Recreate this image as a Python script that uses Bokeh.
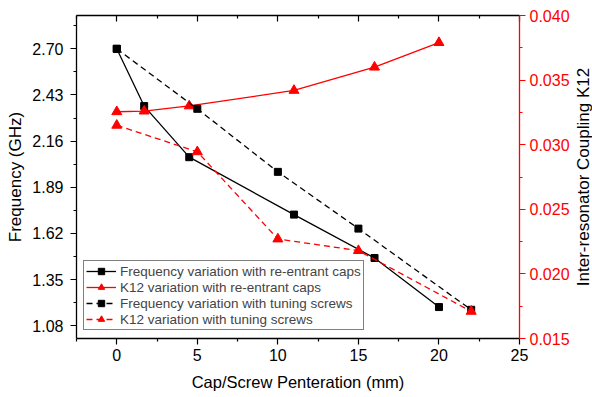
import math
from bokeh.plotting import figure
from bokeh.layouts import row
from bokeh.models import Range1d, LinearAxis, FixedTicker, Legend, LegendItem, PrintfTickFormatter
from bokeh.core.properties import value
from bokeh.embed import file_html
from bokeh.resources import INLINE

# Data
x_caps = [0, 1.7, 4.5, 11, 16, 20]
freq_caps = [2.70, 2.365, 2.066, 1.73, 1.476, 1.189]
k12_caps = [0.03255, 0.0326, 0.0330, 0.0342, 0.0360, 0.0379]

x_screws = [0, 5, 10, 15, 22]
freq_screws = [2.70, 2.349, 1.98, 1.648, 1.173]
k12_screws = [0.0315, 0.02945, 0.0227, 0.0218, 0.0171]

x_ticks = [0, 5, 10, 15, 20, 25]
x_minor = [-2.5, 2.5, 7.5, 12.5, 17.5, 22.5]
freq_ticks = [1.08, 1.35, 1.62, 1.89, 2.16, 2.43, 2.70]
freq_minor = [1.215, 1.485, 1.755, 2.025, 2.295, 2.565, 2.835]
k_ticks = [0.015, 0.020, 0.025, 0.030, 0.035, 0.040]
k_minor = [0.0175, 0.0225, 0.0275, 0.0325, 0.0375]

labels = [
    "Frequency variation with re-entrant caps",
    "K12 variation with re-entrant caps",
    "Frequency variation with tuning screws",
    "K12 variation with tuning screws",
]
right_title = "Inter-resonator Coupling K12"

FONT = "Liberation Sans"
RED = "#FF0000"
K_LO, K_HI = 0.015, 0.040

p = figure(width=572, height=397, x_range=Range1d(-2.5, 25), y_range=Range1d(1.005, 2.895),
           output_backend="svg", toolbar_location=None,
           min_border_left=76, min_border_right=53, min_border_top=15, min_border_bottom=59)
p.extra_y_ranges = {"k": Range1d(K_LO, K_HI)}
p.xgrid.visible = False
p.ygrid.visible = False
p.outline_line_color = None

def style_axis(ax, color="black"):
    ax.axis_line_color = color
    ax.axis_line_width = 1.3
    ax.major_tick_line_color = color
    ax.minor_tick_line_color = color
    ax.major_tick_line_width = 1.2
    ax.minor_tick_line_width = 1.2
    ax.major_tick_out = 6
    ax.major_tick_in = 0
    ax.minor_tick_out = 3
    ax.minor_tick_in = 0
    ax.major_label_text_font = FONT
    ax.major_label_text_font_size = "16px"
    ax.major_label_text_color = color
    ax.axis_label_text_font = FONT
    ax.axis_label_text_font_size = "17px"
    ax.axis_label_text_font_style = "normal"
    ax.axis_label_text_color = "black"

xa = p.xaxis[0]
xa.ticker = FixedTicker(ticks=x_ticks, minor_ticks=x_minor)
xa.axis_label = "Cap/Screw Penteration (mm)"
style_axis(xa)
xa.axis_label_text_font_size = "16.5px"
xa.major_label_standoff = 4
xa.axis_label_standoff = 9

ya = p.yaxis[0]
ya.ticker = FixedTicker(ticks=freq_ticks, minor_ticks=freq_minor)
ya.formatter = PrintfTickFormatter(format="%.2f")
ya.axis_label = "Frequency (GHz)"
style_axis(ya)
ya.major_label_standoff = 7
ya.axis_label_standoff = 4

ra = LinearAxis(y_range_name="k", ticker=FixedTicker(ticks=k_ticks, minor_ticks=k_minor),
                formatter=PrintfTickFormatter(format="%.3f"))
style_axis(ra, RED)
ra.major_label_standoff = 4
p.add_layout(ra, "right")

ta = LinearAxis(ticker=FixedTicker(ticks=x_ticks, minor_ticks=x_minor))
style_axis(ta)
ta.major_tick_out = 0
ta.major_tick_in = 6
ta.minor_tick_out = 0
ta.minor_tick_in = 3
ta.major_label_overrides = {t: "" for t in x_ticks}
ta.major_label_standoff = 0
p.add_layout(ta, "above")

# Series
l1 = p.line(x_caps, freq_caps, line_color="black", line_width=1.3)
m1 = p.scatter(x_caps, freq_caps, marker="square", size=7, color="black")

l2 = p.line(x_caps, k12_caps, line_color=RED, line_width=1.3, y_range_name="k")
m2 = p.scatter(x_caps, k12_caps, marker="triangle", size=10, color=RED, y_range_name="k")

l3 = p.line(x_screws, freq_screws, line_color="black", line_width=1.3, line_dash="6 4")
m3 = p.scatter(x_screws, freq_screws, marker="square", size=7, color="black")

l4 = p.line(x_screws, k12_screws, line_color=RED, line_width=1.3, line_dash="6 4", y_range_name="k")
m4 = p.scatter(x_screws, k12_screws, marker="triangle", size=10, color=RED, y_range_name="k")

legend = Legend(items=[
    LegendItem(label=labels[0], renderers=[l1, m1]),
    LegendItem(label=labels[1], renderers=[l2, m2]),
    LegendItem(label=labels[2], renderers=[l3, m3]),
    LegendItem(label=labels[3], renderers=[l4, m4]),
], location=(7, 8))
legend.border_line_color = "black"
legend.border_line_width = 1.2
legend.background_fill_color = "white"
legend.background_fill_alpha = 1
legend.label_text_font = FONT
legend.label_text_font_size = "13.5px"
legend.glyph_width = 30
legend.glyph_height = 16
legend.label_height = 16
legend.spacing = 0
legend.padding = 2
legend.margin = 0
legend.label_standoff = 4
p.add_layout(legend)

# Narrow strip carrying the right-hand axis title (reads bottom to top)
p2 = figure(width=20, height=397, x_range=Range1d(0, 1), y_range=Range1d(K_LO, K_HI),
            output_backend="svg", toolbar_location=None,
            min_border_left=0, min_border_right=0, min_border_top=15, min_border_bottom=59)
p2.axis.visible = False
p2.xgrid.visible = False
p2.ygrid.visible = False
p2.outline_line_color = None
p2.text(x=[0.55], y=[(K_LO + K_HI) / 2], text=[right_title], angle=math.pi / 2,
        text_align="center", text_baseline="middle",
        text_font=value(FONT), text_font_size="17px", text_color="black")

layout = row(p, p2, spacing=0)
open("out.html", "w").write(file_html(layout, INLINE))
